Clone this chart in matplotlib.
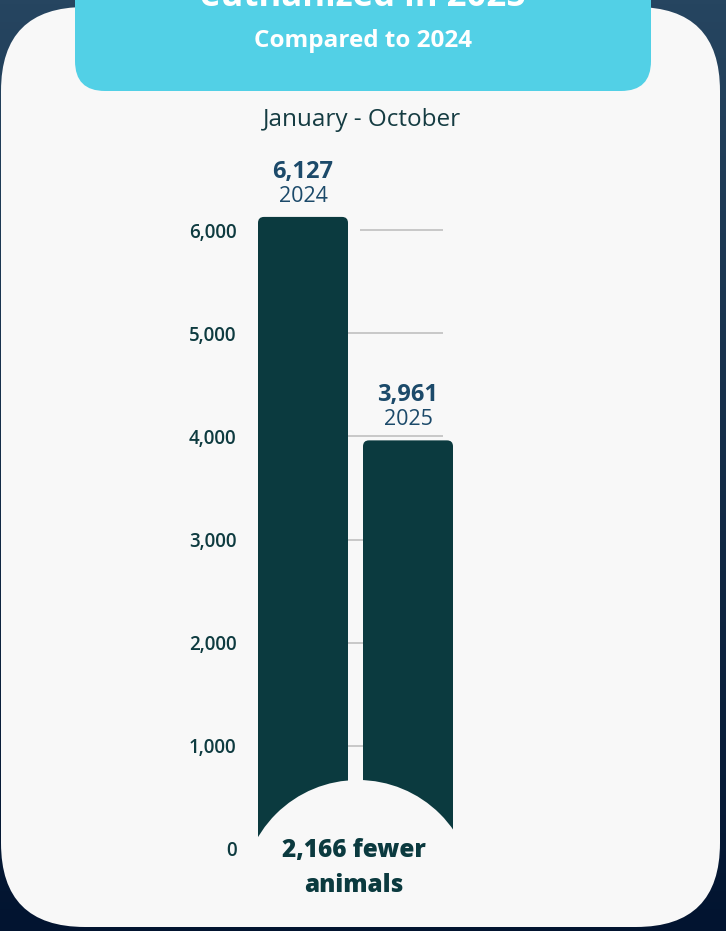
import numpy as np
import matplotlib
matplotlib.use("Agg")
import matplotlib.pyplot as plt
from matplotlib.patches import FancyBboxPatch, Circle
from matplotlib.colors import to_rgb
from matplotlib.ticker import FuncFormatter

plt.rcParams['font.family'] = ['Open Sans', 'DejaVu Sans']

# data
years = ['2024', '2025']
counts = [6127, 3961]
yticks = [0, 1000, 2000, 3000, 4000, 5000, 6000]
title = 'euthanized in 2025'
subtitle = 'Compared to 2024'
period = 'January - October'

W, H = 726, 931
bar_col = '#0b3a3f'
label_col = '#1c4a6a'
card_col = '#f8f8f8'

fig = plt.figure(figsize=(W / 100, H / 100), dpi=100)

# background + card + header (pixel coords)
bg = fig.add_axes([0, 0, 1, 1])
bg.set_xlim(0, W)
bg.set_ylim(H, 0)
bg.axis('off')
top, bot = np.array(to_rgb('#264560')), np.array(to_rgb('#021430'))
t = np.linspace(0, 1, 256)[:, None]
grad = (top * (1 - t) + bot * t)[:, None, :]
bg.imshow(grad, extent=[0, W, H, 0], aspect='auto', zorder=0)

card = FancyBboxPatch((1, 7), 719, 920, boxstyle="round,pad=0,rounding_size=84",
                      fc=card_col, ec='none', zorder=1)
bg.add_patch(card)
bg.add_patch(FancyBboxPatch((75, -60), 576, 151, boxstyle="round,pad=0,rounding_size=30",
                            fc='#52d0e6', ec='none', zorder=2))
bg.text(363, 6, title, ha='center', va='baseline', color='white', fontsize=25,
        fontweight='bold', zorder=3)
bg.text(363, 41, subtitle, ha='center', va='center', color='white', fontsize=17.5,
        fontweight='bold', zorder=3)
bg.text(362, 120, period, ha='center', va='center', color='#153c42', fontsize=17.5, zorder=3)

# chart axes
ax_l, ax_r, ax_b, ax_t = 245, 460, 849, 200
ax = fig.add_axes([ax_l / W, 1 - ax_b / H, (ax_r - ax_l) / W, (ax_b - ax_t) / H])
ax.patch.set_alpha(0)
x0 = (ax_l - 303) / 105
ax.set_xlim(x0, x0 + (ax_r - ax_l) / 105)
ymax = 6291
ax.set_ylim(0, ymax)
for s in ax.spines.values():
    s.set_visible(False)
ax.set_xticks([])
ax.set_yticks(yticks)
ax.yaxis.set_major_formatter(FuncFormatter(lambda v, p: f'{int(v):,}'))
ax.tick_params(axis='y', length=0, pad=6, labelsize=13.5, labelcolor='#0e3b40')
for lab in ax.get_yticklabels():
    lab.set_fontweight('semibold')

xs = np.arange(len(years))
# top gridline starts a little right of the first bar, as in the original
grid_start = [0] * (len(yticks) - 2) + [(360 - 303) / 105]
ax.hlines(yticks[1:], grid_start, (443 - 303) / 105, color='#c0c0c0', lw=1.2, zorder=0)

bars = ax.bar(xs, counts, width=90 / 105, color=bar_col, zorder=2)
py = (ax_b - ax_t) / ymax
r = 6 / 105
for b in bars:
    fb = FancyBboxPatch(b.get_xy(), b.get_width(), b.get_height(),
                        boxstyle=f"round,pad=0,rounding_size={r}",
                        mutation_aspect=(6 / py) / r, fc=bar_col, ec='none', zorder=2)
    ax.add_patch(fb)
    b.set_visible(False)

for x, v, yr in zip(xs, counts, years):
    ax.annotate(f'{v:,}', (x, v), xytext=(0, 28), textcoords='offset points',
                ha='center', va='baseline', fontsize=17, fontweight='bold', color=label_col)
    ax.annotate(yr, (x, v), xytext=(0, 11), textcoords='offset points',
                ha='center', va='baseline', fontsize=15.5, color=label_col)

# overlay: white arc and difference text
ov = fig.add_axes([0, 0, 1, 1])
ov.set_xlim(0, W)
ov.set_ylim(H, 0)
ov.axis('off')
ov.patch.set_alpha(0)
arc = Circle((358, 896), 116, fc=card_col, ec='none')
ov.add_patch(arc)
arc.set_clip_path(card)
diff = counts[0] - counts[1]
ov.text(354, 850, f'{diff:,} fewer', ha='center', va='center', fontsize=17.5,
        fontweight='heavy', color=bar_col)
ov.text(354, 885, 'animals', ha='center', va='center', fontsize=17.5,
        fontweight='heavy', color=bar_col)

fig.savefig('out.png', dpi=100)
